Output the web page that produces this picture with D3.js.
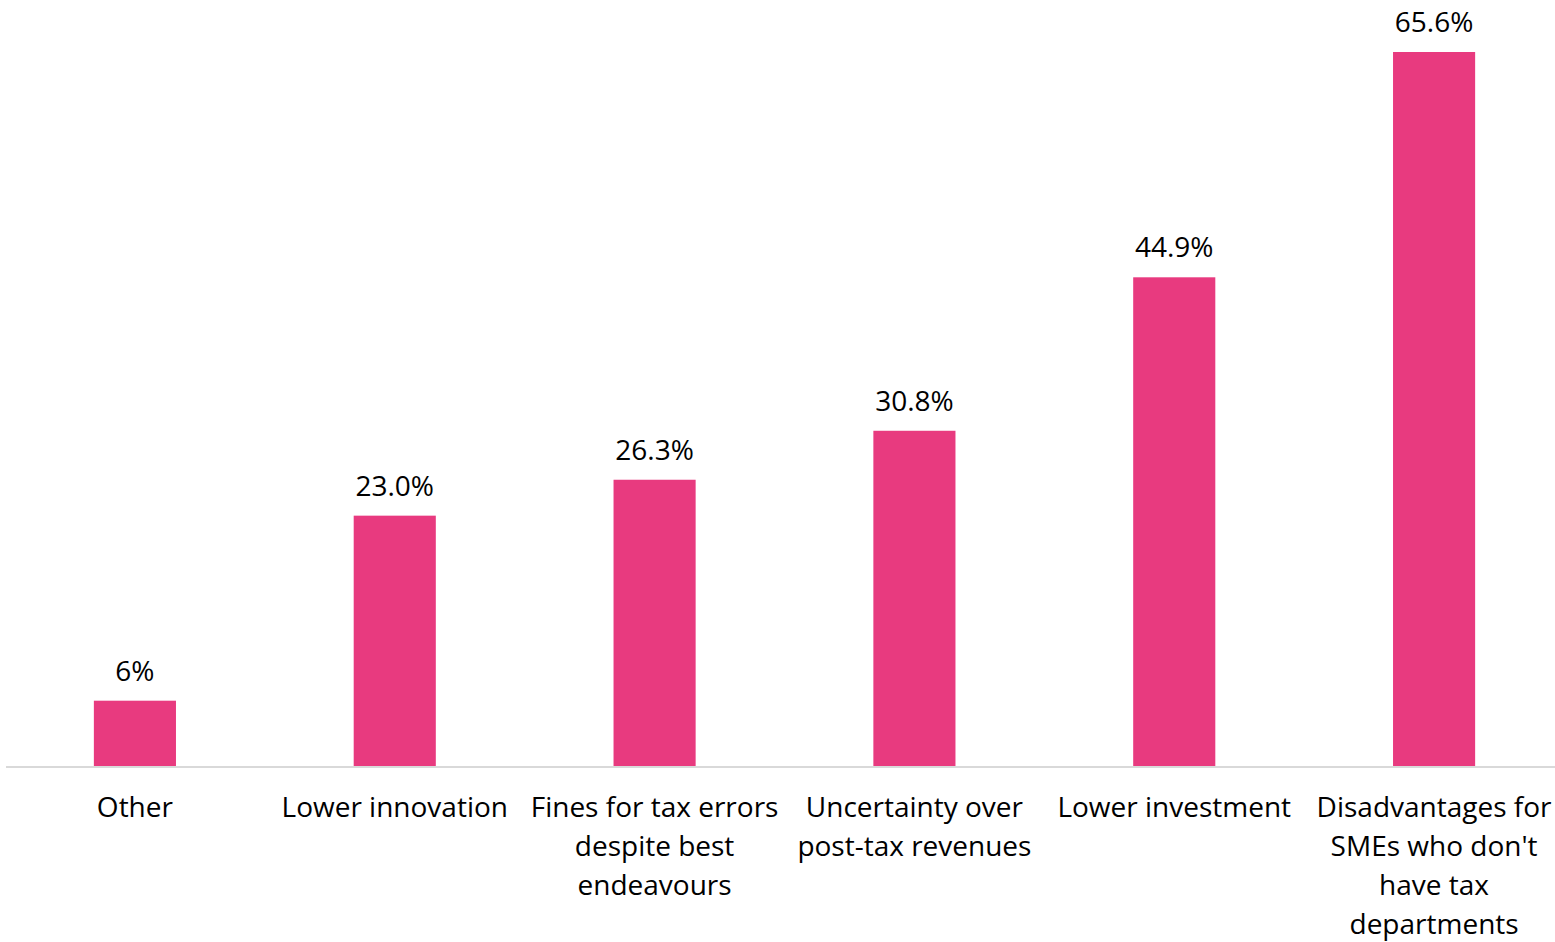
<!DOCTYPE html>
<html>
<head>
<meta charset="utf-8">
<script src="https://cdn.jsdelivr.net/npm/d3@7"></script>
<style>
  html, body { margin: 0; padding: 0; background: #fff; }
  svg text { font-family: "Open Sans", "Lato", sans-serif; fill: #000; }
</style>
</head>
<body>
<svg id="chart" width="1555" height="942"></svg>
<script>
// Reported impacts, share of respondents (%)
const categories = [
  "Other",
  "Lower innovation",
  "Fines for tax errors\ndespite best\nendeavours",
  "Uncertainty over\npost-tax revenues",
  "Lower investment",
  "Disadvantages for\nSMEs who don't\nhave tax\ndepartments"
];
const values = [6, 23.0, 26.3, 30.8, 44.9, 65.6];
const valueLabels = ["6%", "23.0%", "26.3%", "30.8%", "44.9%", "65.6%"];

const width = 1555, height = 942;
const margin = { left: 5, top: 52, bottom: 176 };
const baseY = height - margin.bottom;
const plotRight = 1564;
const fontSize = 28;

const svg = d3.select("#chart");

const x = d3.scaleBand()
  .domain(categories)
  .range([margin.left, plotRight])
  .paddingInner(0.684)
  .paddingOuter(0.342);

const y = d3.scaleLinear()
  .domain([0, 65.6])
  .range([baseY, margin.top]);

// bars
svg.append("g")
  .selectAll("rect")
  .data(values)
  .join("rect")
  .attr("x", (d, i) => x(categories[i]))
  .attr("width", x.bandwidth())
  .attr("y", d => y(d))
  .attr("height", d => y(0) - y(d))
  .attr("fill", "#E83A7F");

// baseline
svg.append("line")
  .attr("x1", 6).attr("x2", width)
  .attr("y1", baseY + 1).attr("y2", baseY + 1)
  .attr("stroke", "#d9d9d9").attr("stroke-width", 2);

// value labels
svg.append("g")
  .selectAll("text")
  .data(values)
  .join("text")
  .attr("x", (d, i) => x(categories[i]) + x.bandwidth() / 2)
  .attr("y", d => y(d) - 20)
  .attr("text-anchor", "middle")
  .attr("font-size", fontSize)
  .text((d, i) => valueLabels[i]);

// category labels
const lineGap = 39;
const catG = svg.append("g")
  .selectAll("text")
  .data(categories)
  .join("text")
  .attr("x", d => x(d) + x.bandwidth() / 2)
  .attr("y", baseY + 51)
  .attr("text-anchor", "middle")
  .attr("font-size", fontSize);
catG.each(function(d) {
  const t = d3.select(this);
  d.split("\n").forEach((line, k) => {
    t.append("tspan")
      .attr("x", t.attr("x"))
      .attr("dy", k === 0 ? 0 : lineGap)
      .text(line);
  });
});
</script>
</body>
</html>
